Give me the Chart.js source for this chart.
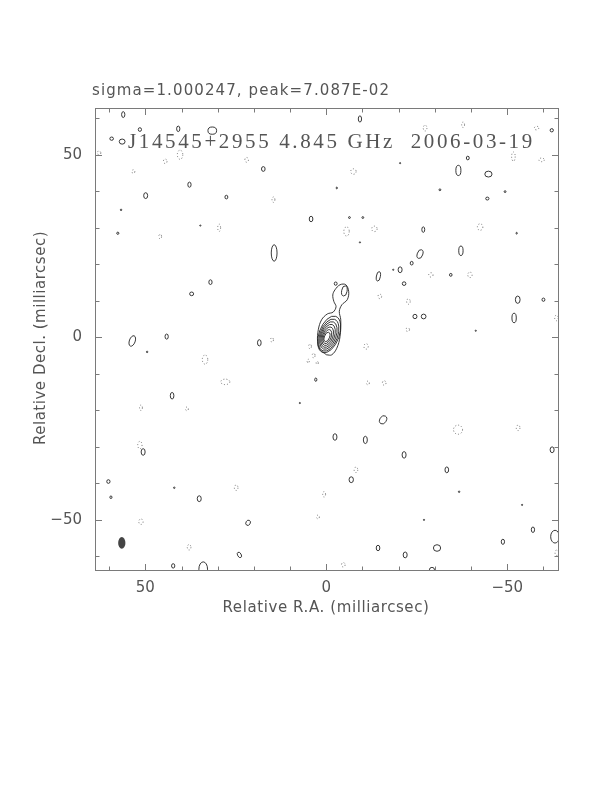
<!DOCTYPE html>
<html><head><meta charset="utf-8">
<script src="https://cdn.jsdelivr.net/npm/chart.js@4/dist/chart.umd.min.js"></script>
<style>html,body{margin:0;padding:0;background:#fff;}#wrap{width:612px;height:792px;}</style>
</head><body><div id="wrap"><canvas id="c" width="612" height="792"></canvas></div>
<script>
// ---- axis ranges / ticks (milliarcsec) ----
const xRange = [-64.3, 63.9];
const yRange = [-64.0, 62.8];
const xTicks = [60, 50, 40, 30, 20, 10, 0, -10, -20, -30, -40, -50, -60];
const yTicks = [60, 50, 40, 30, 20, 10, 0, -10, -20, -30, -40, -50, -60];
const labeledTicks = [50, 0, -50];
const tickLabels = ['50', '0', '\u221250'];

// ---- texts ----
const topTitle = 'sigma=1.000247, peak=7.087E-02';
const mapTitle = 'J14545+2955 4.845 GHz  2006-03-19';
const xTitle = 'Relative R.A. (milliarcsec)';
const yTitle = 'Relative Decl. (milliarcsec)';

// ---- positive contour islands: [RA, Dec, width, height, tilt] ----
const posBlobs = [
  [56.1,61.0,0.9,1.6],[40.9,57.1,0.9,1.5],[31.5,56.6,2.4,2.0],[51.5,56.9,0.9,1.0],
  [59.3,54.4,1.0,0.9],[56.4,53.6,1.6,1.4],[-9.3,59.8,0.9,1.7],[-62.3,56.7,0.9,0.9],
  [17.4,46.1,1.0,1.3],[37.8,41.8,0.9,1.4],[49.9,38.8,1.1,1.6],[27.6,38.4,0.8,1.0],
  [56.7,34.9,0.4,0.4],[57.6,28.5,0.6,0.6],[34.8,30.6,0.3,0.3],[4.2,32.4,1.0,1.5],
  [14.4,23.1,1.6,4.5],[32.0,15.1,0.9,1.3],[37.2,11.9,1.1,1.0],[53.6,-1.0,1.6,3.0,20],
  [44.1,0.2,0.9,1.4],[18.5,-1.5,1.0,1.7],
  [-39.1,49.1,0.8,1.0],[-36.5,45.7,1.4,2.8],[-44.8,44.7,2.0,1.6],[-20.4,47.7,0.3,0.3],
  [-2.9,40.9,0.3,0.5],[-31.4,40.4,0.5,0.5],[-49.4,39.9,0.5,0.5],[-44.5,38.0,0.9,0.8],
  [-6.4,32.8,0.5,0.5],[-10.1,32.8,0.5,0.5],[-9.3,26.0,0.3,0.3],[-26.8,29.5,0.8,1.5],
  [-52.6,28.5,0.3,0.5],[-37.2,23.7,1.2,2.6],[-25.9,22.8,1.5,2.5,20],[-23.6,20.3,0.8,1.0],
  [-20.4,18.5,1.1,1.6],[-18.5,18.5,0.3,0.3],[-34.4,17.1,0.7,0.8],[-14.4,16.7,1.1,2.6,10],
  [-21.5,14.7,1.0,1.0],[-52.9,10.3,1.3,2.0],[-60.0,10.3,0.8,0.9],[-51.9,5.3,1.2,2.6],
  [-24.5,5.7,1.1,1.2],[-26.9,5.7,1.3,1.3],[-41.3,1.8,0.3,0.3],[2.9,-11.6,0.6,0.9],
  [49.5,-4.0,0.4,0.4],[42.6,-16.0,1.0,1.8],[50.6,-31.4,1.1,1.8],[60.2,-39.5,0.9,1.0],
  [59.5,-43.8,0.6,0.7],[42.0,-41.2,0.4,0.4],[35.1,-44.2,1.1,1.6],[21.6,-50.8,1.2,1.5,30],
  [42.3,-62.6,0.9,1.2],[34.0,-63.5,2.4,4.0],[57.8,-64.5,1.4,1.2],[24.0,-59.6,1.0,1.6,-30],
  [7.3,-18.0,0.3,0.3],[-2.4,-27.3,1.1,1.8],[-6.9,-39.0,1.2,1.6],[-10.8,-28.1,1.1,2.0],
  [-15.7,-22.6,1.8,2.4,30],[-21.5,-32.2,1.1,1.8],[-33.3,-36.3,1.0,1.6],[-36.7,-42.3,0.4,0.4],
  [-62.4,-30.8,1.1,1.6],[-14.3,-57.7,1.0,1.5],[-21.8,-59.6,1.1,1.6],[-27.0,-50.0,0.3,0.3],
  [-30.6,-57.7,2.0,1.8],[-57.1,-52.7,0.9,1.5],[-48.8,-56.0,0.9,1.4],[-63.2,-54.6,2.4,3.5],
  [-54.1,-45.9,0.3,0.3],[-29.2,-63.7,1.4,1.4]
];

// ---- negative contour islands: [RA, Dec, width, height] ----
const negBlobs = [
  [40.4,50.0,1.5,2.5],[44.5,48.2,1.0,1.2],[22.0,48.6,1.0,1.3],[53.3,45.4,0.8,1.0],
  [14.6,37.7,0.8,1.5],[29.6,30.0,0.8,2.0],[45.9,27.6,0.8,1.2],[-27.3,57.3,1.0,1.6],
  [-37.8,58.2,0.8,1.5],[-58.1,57.3,1.2,1.0],[-51.7,49.5,1.0,2.5],[-59.5,48.6,1.5,1.0],
  [-7.5,45.4,1.5,1.5],[-5.6,29.0,1.5,2.5],[-13.3,29.7,1.5,1.5],[-42.5,30.2,1.5,1.8],
  [-28.9,17.1,1.2,1.2],[-39.7,17.1,1.2,1.5],[-14.8,11.2,1.0,1.2],[-22.7,9.8,1.0,1.5],
  [-22.5,2.1,1.0,1.0],[-63.6,5.3,1.0,1.5],
  [4.5,-2.5,0.8,1.2],[3.5,-5.0,0.8,1.2],[5.0,-6.5,0.6,1.0],[2.5,-7.0,0.6,0.8],
  [-11.0,-2.5,1.2,1.5],
  [15.0,-0.7,0.8,1.2],[-11.5,-12.5,0.8,1.0],[62.8,50.5,1.0,1.0],
  [51.2,-19.3,0.8,1.5],[33.5,-6.1,1.5,2.5],[27.9,-12.2,2.5,1.5],[38.5,-19.6,0.8,1.0],
  [51.5,-29.5,1.2,2.0],[24.9,-41.2,1.0,1.5],[51.2,-50.5,1.2,1.5],[37.9,-57.5,1.0,1.5],
  [-4.7,-62.3,1.0,1.2],[0.6,-43.0,0.8,1.5],[2.3,-49.2,0.8,1.0],[-8.2,-36.3,1.0,1.5],
  [-16.0,-12.5,1.0,1.2],[-36.4,-25.3,2.5,2.5],[-53.0,-24.8,1.0,1.5],[-63.7,-59.0,1.0,1.5]
];

// ---- core: outer contour with jet extension (RA, Dec) ----
const coreOuterRA  = [-0.1,1.7,2.4,2.2,1.3,-0.3,-1.9,-2.7,-2.1,-1.8,-2.4,-3.8,-5.4,-6.2,-5.8,-4.3,-3.6,-4.0,-3.8,-2.9,-1.5,-0.1];
const coreOuterDec = [-4.8,-3.4,-1.2,2.1,4.8,6.4,6.9,8.4,9.8,11.6,13.0,14.4,14.4,12.5,10.3,8.9,7.1,4.8,0.2,-3.0,-4.8,-4.8];
// nested core contours and jet knots: [RA, Dec, width, height, tilt]
const coreLevels = [
  [-0.8,0.8,5.6,10.5,20],[-0.7,0.6,4.9,9.2,20],[-0.6,0.5,4.2,7.9,20],[-0.5,0.4,3.5,6.6,20],
  [-0.4,0.3,2.8,5.3,20],[-0.3,0.2,2.1,4.0,20],[-0.2,0.1,1.4,2.7,20],
  [-5.0,12.7,1.5,2.8,10],[-2.6,14.7,0.8,0.9]
];
// restoring beam: [RA, Dec, width, height]
const beam = [[56.5,-56.3,2.0,3.2]];

const toPts = arr => arr.map(b => ({x:b[0], y:b[1]}));

const mapPlugin = {
  id: 'mapPlugin',
  afterDatasetsDraw(chart) {
    const {ctx, chartArea:a, scales:{x, y}} = chart;
    ctx.save();
    ctx.beginPath(); ctx.rect(a.left, a.top, a.right-a.left, a.bottom-a.top); ctx.clip();
    chart.data.datasets.forEach((ds, di) => {
      if (!ds.blobs) return;
      const meta = chart.getDatasetMeta(di);
      ds.blobs.forEach((b, i) => {
        const el = meta.data[i];
        const rx = Math.abs(x.getPixelForValue(b[0]+b[2]/2) - x.getPixelForValue(b[0]-b[2]/2))/2;
        const ry = Math.abs(y.getPixelForValue(b[1]+b[3]/2) - y.getPixelForValue(b[1]-b[3]/2))/2;
        ctx.beginPath();
        ctx.ellipse(el.x, el.y, Math.max(rx,0.6), Math.max(ry,0.6), (b[4]||0)*Math.PI/180, 0, 2*Math.PI);
        if (ds.blobStyle === 'fill') {
          ctx.fillStyle = '#444'; ctx.fill();
        } else {
          ctx.setLineDash(ds.blobStyle === 'dash' ? [1,2] : []);
          ctx.strokeStyle = ds.blobStyle === 'dash' ? '#666' : '#222';
          ctx.lineWidth = 0.9; ctx.stroke();
        }
      });
    });
    ctx.restore();
  },
  afterDraw(chart) {
    const {ctx, chartArea:a, scales:{x, y}} = chart;
    ctx.save();
    ctx.strokeStyle = '#7a7a7a'; ctx.lineWidth = 1; ctx.setLineDash([]);
    ctx.strokeRect(a.left+0.5, a.top+0.5, a.right-a.left-1, a.bottom-a.top-1);
    ctx.beginPath();
    xTicks.forEach(t => {
      const p = Math.round(x.getPixelForValue(t)) + 0.5;
      const len = labeledTicks.includes(t) ? 7 : 4.5;
      ctx.moveTo(p, a.bottom); ctx.lineTo(p, a.bottom-len);
      ctx.moveTo(p, a.top); ctx.lineTo(p, a.top+len);
    });
    yTicks.forEach(t => {
      const p = Math.round(y.getPixelForValue(t)) + 0.5;
      const len = labeledTicks.includes(t) ? 7 : 4.5;
      ctx.moveTo(a.left, p); ctx.lineTo(a.left+len, p);
      ctx.moveTo(a.right, p); ctx.lineTo(a.right-len, p);
    });
    ctx.stroke();

    ctx.fillStyle = '#555';
    ctx.font = '15px "DejaVu Sans"';
    ctx.textBaseline = 'alphabetic';
    labeledTicks.forEach((t, i) => {
      ctx.textAlign = 'center';
      ctx.fillText(tickLabels[i], x.getPixelForValue(t), a.bottom + 21);
      ctx.textAlign = 'right'; ctx.textBaseline = 'middle';
      ctx.fillText(tickLabels[i], a.left - 13, y.getPixelForValue(t));
      ctx.textBaseline = 'alphabetic';
    });

    const fit = (text, cx, by, w, align) => {
      if ('letterSpacing' in ctx) ctx.letterSpacing = '0px';
      const w0 = ctx.measureText(text).width;
      const n = [...text].length;
      if ('letterSpacing' in ctx) {
        ctx.letterSpacing = ((w - w0) / n).toFixed(2) + 'px';
        const w1 = ctx.measureText(text).width;
        ctx.textAlign = 'left';
        const left = align === 'center' ? cx - w1/2 : cx;
        ctx.fillText(text, left, by);
        ctx.letterSpacing = '0px';
      } else {
        ctx.save(); ctx.translate(align === 'center' ? cx - w/2 : cx, by);
        ctx.scale(w / w0, 1); ctx.textAlign = 'left'; ctx.fillText(text, 0, 0); ctx.restore();
      }
    };
    ctx.font = '15px "DejaVu Sans"';
    fit(topTitle, 92, 95, 298, 'left');
    fit(xTitle, 326, 612, 207, 'center');
    ctx.save();
    ctx.translate(45, 338); ctx.rotate(-Math.PI/2);
    fit(yTitle, 0, 0, 214, 'center');
    ctx.restore();
    ctx.font = '21px "Liberation Serif"';
    ctx.fillStyle = '#555';
    fit(mapTitle, 128, 148, 407, 'left');
    ctx.restore();
  }
};

new Chart(document.getElementById('c'), {
  type: 'scatter',
  data: {
    datasets: [
      {label:'positive', data: toPts(posBlobs), blobs: posBlobs, blobStyle:'solid', pointRadius:0},
      {label:'negative', data: toPts(negBlobs), blobs: negBlobs, blobStyle:'dash', pointRadius:0},
      {label:'core outer', data: coreOuterRA.map((v,i)=>({x:v, y:coreOuterDec[i]})), showLine:true,
       borderColor:'#222', borderWidth:0.9, pointRadius:0, tension:0.35, fill:false},
      {label:'core levels', data: toPts(coreLevels), blobs: coreLevels, blobStyle:'solid', pointRadius:0},
      {label:'beam', data: toPts(beam), blobs: beam, blobStyle:'fill', pointRadius:0}
    ]
  },
  options: {
    responsive: false, animation: false, devicePixelRatio: 1,
    layout: {padding: {left:95, top:108, right:53, bottom:221}},
    plugins: {legend:{display:false}, tooltip:{enabled:false}},
    scales: {
      x: {type:'linear', min:xRange[0], max:xRange[1], reverse:true, display:false},
      y: {type:'linear', min:yRange[0], max:yRange[1], display:false}
    }
  },
  plugins: [mapPlugin]
});
</script></body></html>
